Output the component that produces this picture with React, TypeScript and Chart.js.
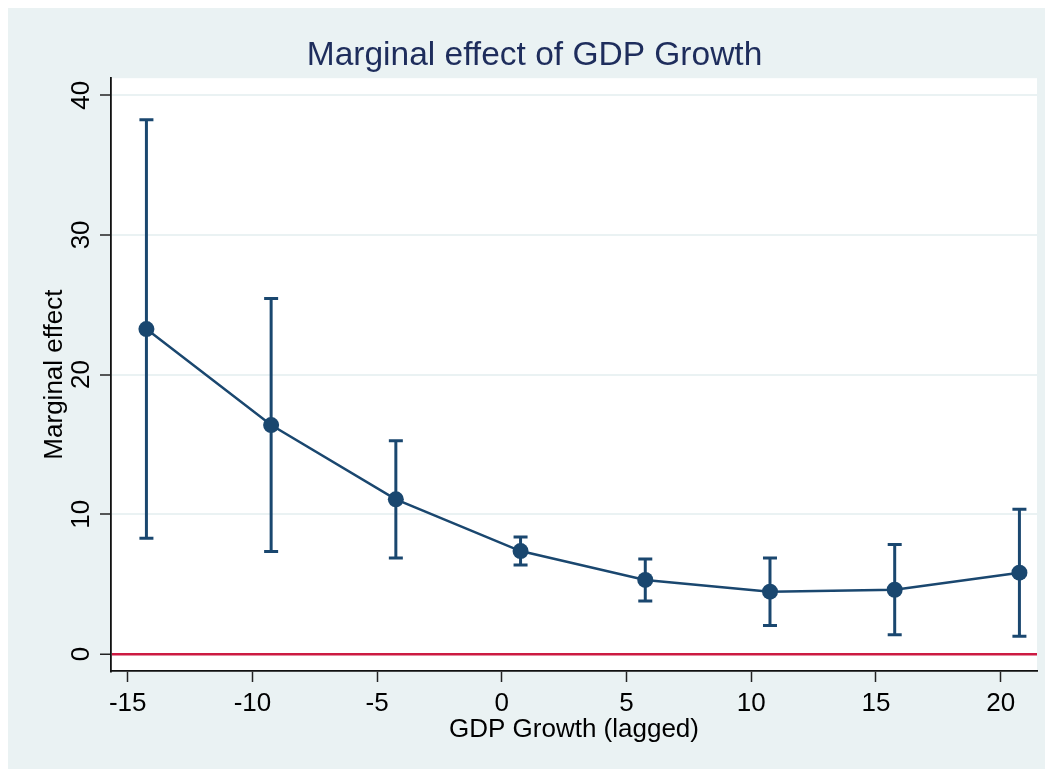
import { useEffect, useRef } from "react";
import { Chart, registerables } from "chart.js";

Chart.register(...registerables);

// ---- Data ----
const xValues = [-14.25, -9.25, -4.25, 0.75, 5.75, 10.75, 15.75, 20.75];
const effects = [23.26, 16.39, 11.07, 7.37, 5.3, 4.46, 4.6, 5.82];
const ciLower = [8.29, 7.34, 6.87, 6.37, 3.8, 2.04, 1.38, 1.28];
const ciUpper = [38.24, 25.44, 15.27, 8.38, 6.8, 6.88, 7.84, 10.36];
const xTickValues = [-15, -10, -5, 0, 5, 10, 15, 20];
const yTickValues = [0, 10, 20, 30, 40];

const chartTitle = "Marginal effect of GDP Growth";
const xTitle = "GDP Growth (lagged)";
const yTitle = "Marginal effect";

const NAVY = "#1A476F";
const BG = "#EAF2F3";
const RED = "#CC1A42";
const FONT = "'Liberation Sans', Arial, Helvetica, sans-serif";

const W = 1045;
const H = 761;
const LEFT_PAD = 24;

const backgroundPlugin = {
  id: "stataBackground",
  beforeDraw(chart: any) {
    const { ctx, chartArea } = chart;
    ctx.save();
    ctx.fillStyle = BG;
    ctx.fillRect(0, 0, chart.width, chart.height);
    ctx.fillStyle = "#FFFFFF";
    ctx.fillRect(
      chartArea.left,
      chartArea.top,
      chartArea.right - chartArea.left,
      chartArea.bottom - chartArea.top
    );
    ctx.restore();
  },
};

export default function App() {
  const canvasRef = useRef<HTMLCanvasElement | null>(null);

  useEffect(() => {
    document.body.style.overflow = "hidden";
    const canvas = canvasRef.current;
    if (!canvas) return;

    const mainPoints = xValues.map((x, i) => ({ x, y: effects[i] }));
    const errorPoints: any[] = [];
    xValues.forEach((x, i) => {
      errorPoints.push({ x, y: ciLower[i] });
      errorPoints.push({ x, y: ciUpper[i] });
      errorPoints.push({ x, y: null });
    });

    const chart = new Chart(canvas, {
      type: "line",
      data: {
        datasets: [
          {
            label: "effect",
            data: mainPoints,
            borderColor: NAVY,
            backgroundColor: NAVY,
            borderWidth: 2.5,
            pointRadius: 8,
            pointBorderWidth: 0,
            pointBackgroundColor: NAVY,
            tension: 0,
            order: 0,
          },
          {
            label: "ci",
            data: errorPoints,
            borderColor: NAVY,
            borderWidth: 3,
            spanGaps: false,
            pointStyle: "line",
            pointRadius: 7,
            pointBorderWidth: 3,
            pointBorderColor: NAVY,
            pointBackgroundColor: NAVY,
            tension: 0,
            order: 1,
          },
        ],
      },
      options: {
        animation: false,
        responsive: false,
        devicePixelRatio: 1,
        layout: { padding: { left: LEFT_PAD, right: 16, top: 0, bottom: 0 } },
        plugins: {
          legend: { display: false },
          tooltip: { enabled: false },
          title: {
            display: true,
            text: chartTitle,
            color: "#1E2D5C",
            font: { family: FONT, size: 33.5, weight: "normal" },
            padding: { top: 28, bottom: 2 },
          },
        },
        scales: {
          x: {
            type: "linear",
            min: -15.67,
            max: 21.455,
            afterBuildTicks: (scale: any) => {
              scale.ticks = xTickValues.map((v) => ({ value: v }));
            },
            afterFit: (scale: any) => {
              scale.height = 98;
            },
            ticks: {
              color: "#000",
              padding: 6,
              font: { family: FONT, size: 26 },
              maxRotation: 0,
              minRotation: 0,
            },
            grid: {
              drawOnChartArea: false,
              drawTicks: true,
              tickLength: 11,
              tickWidth: 1.5,
              tickColor: "#222",
            },
            border: { display: true, color: "#111", width: 1.8 },
            title: {
              display: true,
              text: xTitle,
              color: "#000",
              font: { family: FONT, size: 26 },
              padding: { top: 0, bottom: 24 },
            },
          },
          y: {
            type: "linear",
            min: -1.216,
            max: 41.216,
            afterBuildTicks: (scale: any) => {
              scale.ticks = yTickValues.map((v) => ({ value: v }));
            },
            afterFit: (scale: any) => {
              scale.width = 103 - LEFT_PAD;
            },
            ticks: {
              color: "#000",
              padding: 3.5,
              crossAlign: "center",
              minRotation: 90,
              maxRotation: 90,
              font: { family: FONT, size: 26 },
            },
            grid: {
              drawOnChartArea: true,
              drawTicks: true,
              tickLength: 11,
              tickWidth: 1.5,
              tickColor: "#222",
              color: (ctx: any) =>
                ctx.tick && ctx.tick.value === 0 ? RED : BG,
              lineWidth: (ctx: any) =>
                ctx.tick && ctx.tick.value === 0 ? 2.5 : 2,
            },
            border: { display: true, color: "#111", width: 1.8 },
            title: {
              display: true,
              text: yTitle,
              color: "#000",
              font: { family: FONT, size: 26 },
              padding: { top: 31 - LEFT_PAD, bottom: 0 },
            },
          },
        },
      },
      plugins: [backgroundPlugin],
    } as any);

    return () => {
      chart.destroy();
    };
  }, []);

  return (
    <canvas
      ref={canvasRef}
      width={W}
      height={H}
      style={{ display: "block", width: W, height: H }}
    />
  );
}
